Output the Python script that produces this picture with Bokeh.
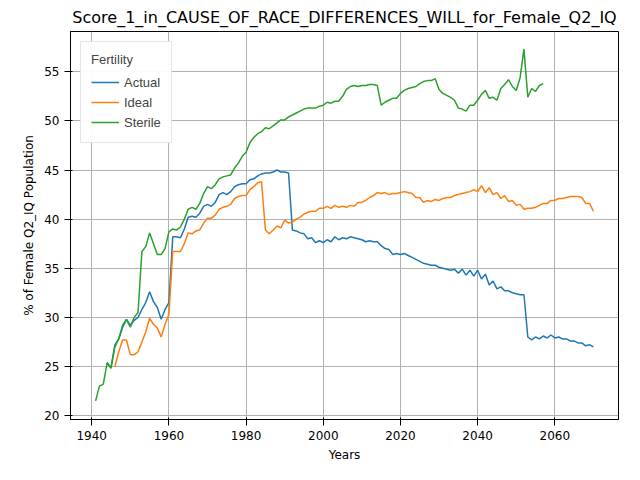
from bokeh.plotting import figure
from bokeh.models import Legend, LegendItem
from bokeh.embed import file_html
from bokeh.resources import INLINE

actual_years = list(range(1944, 2071))
actual = [25.3, 24.9, 27.2, 27.8, 29.0, 29.8, 29.2, 29.7, 30.0, 30.8, 31.5, 32.6, 31.6, 31.0, 29.8, 30.8,
          31.5, 38.2, 38.2, 38.1, 39.0, 40.2, 40.3, 40.2, 40.6, 41.3, 41.5, 41.3, 41.7, 42.5, 42.7, 42.5,
          42.8, 43.3, 43.5, 43.6, 43.6, 44.0, 44.1, 44.4, 44.6, 44.7, 44.7, 44.8, 45.0, 44.8, 44.8, 44.7,
          38.9, 38.8, 38.6, 38.5, 38.0, 38.1, 37.6, 37.8, 37.6, 37.9, 37.7, 38.2, 37.9, 38.1, 38.0, 38.2,
          38.1, 38.0, 37.9, 37.7, 37.8, 37.7, 37.7, 37.3, 37.0, 36.9, 36.4, 36.5, 36.4, 36.5, 36.3, 36.1,
          35.9, 35.7, 35.5, 35.4, 35.3, 35.3, 35.1, 35.0, 34.9, 34.8, 34.9, 34.5, 34.9, 34.3, 34.8, 34.2,
          34.8, 33.9, 34.4, 33.3, 33.7, 32.9, 33.1, 32.7, 32.7, 32.5, 32.4, 32.3, 32.3, 28.0, 27.7, 28.0,
          27.8, 28.1, 27.9, 28.2, 27.9, 28.0, 27.8, 27.8, 27.6, 27.6, 27.4, 27.4, 27.1, 27.2, 27.0]

ideal_years = list(range(1946, 2071))
ideal = [25.0, 26.5, 27.7, 27.7, 26.2, 26.2, 26.5, 27.5, 28.5, 29.9, 29.3, 28.9, 28.0, 29.3, 30.3,
         36.7, 36.7, 36.7, 37.5, 38.6, 38.5, 38.8, 38.9, 39.6, 40.1, 40.1, 40.4, 41.0, 41.2, 41.3, 41.5,
         42.1, 42.3, 42.4, 42.4, 43.0, 43.3, 43.7, 43.8, 38.9, 38.5, 38.9, 39.3, 39.1, 39.9, 39.6, 39.7,
         40.0, 40.2, 40.5, 40.7, 40.8, 40.8, 41.1, 41.1, 41.3, 41.1, 41.4, 41.2, 41.3, 41.2, 41.4, 41.3,
         41.7, 41.7, 41.9, 42.2, 42.4, 42.7, 42.6, 42.7, 42.5, 42.6, 42.6, 42.7, 42.8, 42.7, 42.6, 42.2,
         42.2, 41.7, 41.9, 41.8, 42.0, 41.9, 42.1, 42.2, 42.2, 42.4, 42.5, 42.6, 42.7, 42.8, 43.0, 42.8,
         43.4, 42.7, 43.2, 42.5, 42.7, 42.1, 42.4, 41.8, 41.9, 41.4, 41.5, 41.0, 41.1, 41.1, 41.2, 41.4,
         41.6, 41.6, 41.9, 41.9, 42.1, 42.1, 42.2, 42.3, 42.3, 42.3, 42.2, 41.6, 41.6, 40.8]

sterile_years = list(range(1941, 2058))
sterile = [21.5, 23.0, 23.2, 25.4, 24.8, 27.0, 27.8, 29.2, 29.8, 29.0, 30.0, 30.5, 36.7, 37.2, 38.6,
           37.5, 36.4, 36.4, 37.0, 38.7, 39.0, 38.9, 39.2, 40.0, 41.0, 41.2, 41.0, 41.6, 42.6, 43.3, 43.1,
           43.5, 44.1, 44.3, 44.4, 44.5, 45.2, 45.7, 46.4, 46.8, 47.8, 48.3, 48.7, 48.9, 49.3, 49.2, 49.5,
           49.8, 50.1, 50.1, 50.4, 50.6, 50.8, 51.0, 51.2, 51.3, 51.3, 51.3, 51.5, 51.6, 51.9, 51.8, 52.0,
           52.0, 52.5, 53.2, 53.5, 53.6, 53.5, 53.6, 53.6, 53.7, 53.7, 53.6, 51.6, 51.9, 52.1, 52.3, 52.3,
           52.8, 53.1, 53.3, 53.4, 53.5, 53.8, 54.0, 54.1, 54.1, 54.3, 53.2, 52.8, 52.6, 52.4, 52.1, 51.3,
           51.2, 51.0, 51.6, 51.6, 52.1, 52.7, 53.1, 52.3, 52.4, 52.1, 53.3, 53.7, 54.2, 53.5, 53.1, 54.4,
           57.3, 52.4, 53.3, 53.0, 53.6, 53.8]

p = figure(width=624, height=464, output_backend="svg", toolbar_location=None,
           x_range=(1934.5, 2076.5), y_range=(19.6, 59.1),
           min_border_left=70, min_border_right=6, min_border_top=10,
           title="Score_1_in_CAUSE_OF_RACE_DIFFERENCES_WILL_for_Female_Q2_IQ")
p.title.text_font = "DejaVu Sans"
p.title.text_font_size = "16px"
p.title.text_font_style = "normal"
p.title.text_color = "black"
p.title.align = "center"
p.xaxis.axis_label = "Years"
p.yaxis.axis_label = "% of Female Q2_IQ Population"
for ax in (p.xaxis, p.yaxis):
    ax.axis_label_text_font = "DejaVu Sans"
    ax.axis_label_text_font_style = "normal"
    ax.axis_label_text_font_size = "12px"
    ax.axis_label_text_color = "black"
    ax.major_label_text_font = "DejaVu Sans"
    ax.major_label_text_font_size = "12px"
    ax.major_label_text_color = "black"
    ax.axis_line_color = "black"
    ax.major_tick_line_color = "black"
    ax.minor_tick_line_color = None
p.xaxis.ticker = [1940, 1960, 1980, 2000, 2020, 2040, 2060]
p.yaxis.ticker = [20, 25, 30, 35, 40, 45, 50, 55]
p.grid.grid_line_color = "#b0b0b0"
p.outline_line_color = "black"

r1 = p.line(actual_years, actual, line_color="#1f77b4", line_width=1.5)
r2 = p.line(ideal_years, ideal, line_color="#ff7f0e", line_width=1.5)
r3 = p.line(sterile_years, sterile, line_color="#2ca02c", line_width=1.5)

legend = Legend(items=[LegendItem(label="Actual", renderers=[r1]),
                       LegendItem(label="Ideal", renderers=[r2]),
                       LegendItem(label="Sterile", renderers=[r3])],
                location="top_left", title="Fertility")
legend.title_text_font_style = "normal"
legend.title_text_font_size = "13px"
legend.label_text_font_size = "13px"
legend.border_line_color = "#cccccc"
legend.glyph_width = 28
legend.spacing = 0
p.add_layout(legend)

open("out.html", "w").write(file_html(p, INLINE))
